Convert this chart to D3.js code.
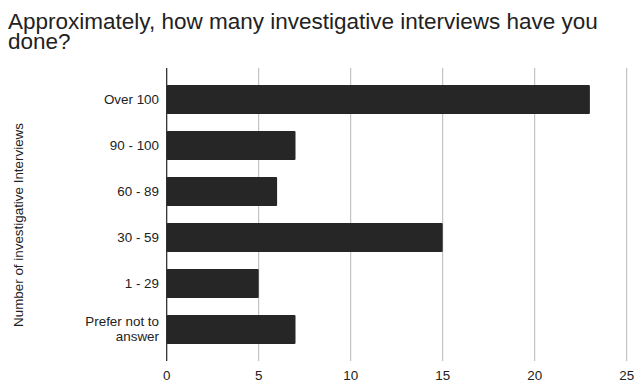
<!DOCTYPE html>
<html>
<head>
<meta charset="utf-8">
<script src="https://cdn.jsdelivr.net/npm/d3@7"></script>
<style>
  body { margin: 0; background: #fff; }
  text { font-family: "Liberation Sans", Arial, sans-serif; }
</style>
</head>
<body>
<div id="chartDiv"></div>
<script>
var categories = ["Over 100", "90 - 100", "60 - 89", "30 - 59", "1 - 29", "Prefer not to answer"];
var counts = [23, 7, 6, 15, 5, 7];
var xTicks = [0, 5, 10, 15, 20, 25];

var width = 637, height = 382;

var svg = d3.select("#chartDiv")
    .append("svg")
    .attr("width", width)
    .attr("height", height);

// title, two lines
svg.append("text")
    .attr("x", 8)
    .attr("y", 29)
    .style("font-size", "22.5px")
    .style("fill", "#222")
    .selectAll("tspan")
    .data(["Approximately, how many investigative interviews have you", "done?"])
    .enter().append("tspan")
    .attr("x", 8)
    .attr("dy", function (d, i) { return i ? 19.5 : 0; })
    .text(function (d) { return d; });

var x = d3.scaleLinear().domain([0, 25]).range([166.7, 626.7]);
var y = d3.scaleBand().domain(categories).range([68, 361])
    .paddingInner(0.37).paddingOuter(0.37);

// gridlines
svg.append("g")
    .selectAll("line")
    .data(xTicks.slice(1))
    .enter().append("line")
    .attr("x1", function (d) { return x(d); })
    .attr("x2", function (d) { return x(d); })
    .attr("y1", 68)
    .attr("y2", 361)
    .style("stroke", "#b7b7b7")
    .style("stroke-width", 1);

// bars
svg.append("g")
    .selectAll("rect")
    .data(categories)
    .enter().append("rect")
    .attr("x", x(0))
    .attr("y", function (d) { return y(d); })
    .attr("width", function (d, i) { return x(counts[i]) - x(0); })
    .attr("height", y.bandwidth())
    .attr("rx", 1)
    .style("fill", "#262626");

// zero axis
svg.append("line")
    .attr("x1", x(0)).attr("x2", x(0))
    .attr("y1", 68).attr("y2", 361)
    .style("stroke", "#222")
    .style("stroke-width", 1.2);

// x tick labels
svg.append("g")
    .selectAll("text")
    .data(xTicks)
    .enter().append("text")
    .attr("x", function (d) { return x(d); })
    .attr("y", 380)
    .attr("text-anchor", "middle")
    .style("font-size", "13.4px")
    .style("fill", "#222")
    .text(function (d) { return d; });

// category labels (wrap the long one)
var catLines = {"Prefer not to answer": ["Prefer not to", "answer"]};
svg.append("g")
    .selectAll("text")
    .data(categories)
    .enter().append("text")
    .attr("x", 159)
    .attr("y", function (d) { return y(d) + y.bandwidth() / 2; })
    .attr("text-anchor", "end")
    .style("font-size", "13.4px")
    .style("fill", "#222")
    .each(function (d) {
        var lines = catLines[d] || [d];
        var t = d3.select(this);
        lines.forEach(function (l, i) {
            t.append("tspan")
                .attr("x", 159)
                .attr("dy", i === 0 ? (4.5 - (lines.length - 1) * 7.5) + "px" : "15px")
                .text(l);
        });
    });

// y axis title
svg.append("text")
    .attr("transform", "translate(23,225) rotate(-90)")
    .attr("text-anchor", "middle")
    .style("font-size", "13.4px")
    .style("fill", "#222")
    .text("Number of investigative Interviews");
</script>
</body>
</html>
